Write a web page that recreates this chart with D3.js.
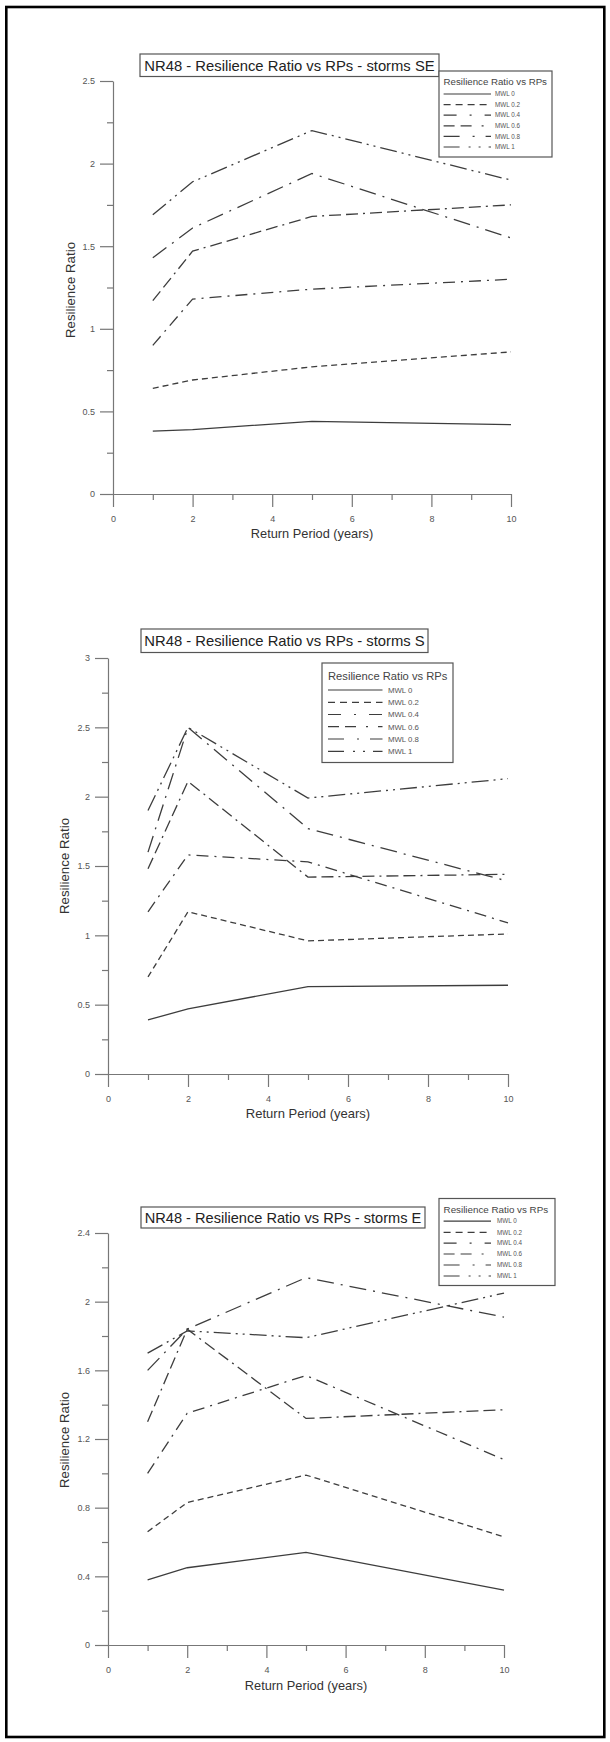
<!DOCTYPE html>
<html>
<head>
<meta charset="utf-8">
<script src="https://cdn.jsdelivr.net/npm/d3@7"></script>
<style>
  body { margin: 0; background: #fff; }
  svg { display: block; }
  text { font-family: "Liberation Sans", Arial, sans-serif; }
</style>
</head>
<body>
<svg id="chart" width="610" height="1742"></svg>
<script>
// ---- data ----
const returnPeriods = [1, 2, 5, 10];
const seriesNames = ["MWL 0", "MWL 0.2", "MWL 0.4", "MWL 0.6", "MWL 0.8", "MWL 1"];

// resilience ratio, one row per MWL series, one value per return period
const ratioSE = [
  [0.38, 0.39, 0.44, 0.42],
  [0.64, 0.69, 0.77, 0.86],
  [0.90, 1.18, 1.24, 1.30],
  [1.17, 1.47, 1.68, 1.75],
  [1.43, 1.61, 1.94, 1.55],
  [1.69, 1.89, 2.20, 1.90]
];
const ratioS = [
  [0.39, 0.47, 0.63, 0.64],
  [0.70, 1.17, 0.96, 1.01],
  [1.17, 1.58, 1.53, 1.09],
  [1.48, 2.11, 1.42, 1.44],
  [1.60, 2.50, 1.77, 1.39],
  [1.90, 2.50, 1.99, 2.13]
];
const ratioE = [
  [0.38, 0.45, 0.54, 0.32],
  [0.66, 0.83, 0.99, 0.63],
  [1.00, 1.35, 1.57, 1.08],
  [1.30, 1.84, 1.32, 1.37],
  [1.60, 1.84, 2.14, 1.91],
  [1.70, 1.83, 1.79, 2.05]
];

const xMajorTicks = [0, 2, 4, 6, 8, 10];
const xMinorTicks = [1, 3, 5, 7, 9];
const yMajorSE = [0, 0.5, 1, 1.5, 2, 2.5];
const yMinorSE = [0.25, 0.75, 1.25, 1.75, 2.25];
const yMajorS = [0, 0.5, 1, 1.5, 2, 2.5, 3];
const yMinorS = [0.25, 0.75, 1.25, 1.75, 2.25, 2.75];
const yMajorE = [0, 0.4, 0.8, 1.2, 1.6, 2, 2.4];
const yMinorE = [0.2, 0.6, 1.0, 1.4, 1.8, 2.2];

const chartTitles = [
  "NR48 - Resilience Ratio vs RPs - storms SE",
  "NR48 - Resilience Ratio vs RPs - storms S",
  "NR48 - Resilience Ratio vs RPs - storms E"
];
const legendTitle = "Resilience Ratio vs RPs";
const xAxisTitle = "Return Period (years)";
const yAxisTitle = "Resilience Ratio";

// ---- styling ----
const dashPatterns = ["none", "6,4", "12,6,2,6", "12,5,12,5,2,5", "17,7,2,7", "17,5,2,5,2,5"];
// legend swatches show one longer repeat of each pattern
const legendDash = ["none", "7,5", "13,13,2,13", "11,6,11,10,2,10", "16,13,2,11", "16,9,2,8,2,8"];
const lineColor = "#3d3d3d";
const axisColor = "#777";

// ---- layout of each panel ----
const panels = [
  {
    title: chartTitles[0], values: ratioSE, yMax: 2.5, yMajor: yMajorSE, yMinor: yMinorSE,
    x0: 113, x1: 511, yTop: 81, yBot: 494,
    titleBox: { x: 140, y: 54, w: 299, h: 22.5, font: 14.8 },
    legend: { x: 439, y: 71, w: 113, h: 86, titleY: 82, titleFont: 9.7,
              rows: [94, 104.6, 115.2, 125.8, 136.4, 147], sx0: 443.6, sx1: 491, lx: 495, font: 6.3 },
    yLabel: { x: 70, y: 290 }, xLabel: { x: 312, y: 534, font: 12.8 }
  },
  {
    title: chartTitles[1], values: ratioS, yMax: 3, yMajor: yMajorS, yMinor: yMinorS,
    x0: 108, x1: 508, yTop: 658, yBot: 1074,
    titleBox: { x: 141, y: 629, w: 287, h: 23.5, font: 14.8 },
    legend: { x: 322, y: 663, w: 131, h: 99.5, titleY: 676.4, titleFont: 11.2,
              rows: [690, 702.3, 714.5, 726.7, 739, 751.3], sx0: 328, sx1: 382.5, lx: 388, font: 7.8 },
    yLabel: { x: 64, y: 866 }, xLabel: { x: 308, y: 1113, font: 13 }
  },
  {
    title: chartTitles[2], values: ratioE, yMax: 2.4, yMajor: yMajorE, yMinor: yMinorE,
    x0: 108, x1: 504, yTop: 1233, yBot: 1645,
    titleBox: { x: 141, y: 1207, w: 284, h: 21, font: 14.6 },
    legend: { x: 439, y: 1198.5, w: 116, h: 87, titleY: 1209, titleFont: 9.8,
              rows: [1221.2, 1232.3, 1243.1, 1254, 1265, 1276], sx0: 443.6, sx1: 491, lx: 497, font: 6.3 },
    yLabel: { x: 64, y: 1440 }, xLabel: { x: 306, y: 1686, font: 12.8 }
  }
];

const svg = d3.select("#chart");

// page frame
svg.append("rect")
  .attr("x", 6.3).attr("y", 7).attr("width", 598).attr("height", 1730)
  .attr("fill", "none").attr("stroke", "#000").attr("stroke-width", 2.6);

panels.forEach(p => {
  const g = svg.append("g");
  const x = d3.scaleLinear().domain([0, 10]).range([p.x0, p.x1]);
  const y = d3.scaleLinear().domain([0, p.yMax]).range([p.yBot, p.yTop]);

  // minor ticks first, then major axes with labels
  const styleAxis = sel => {
    sel.selectAll("path, line").attr("stroke", axisColor).attr("stroke-width", 1.2);
    sel.selectAll("text").attr("fill", "#555").style("font-size", "9px");
  };
  g.append("g").attr("transform", `translate(${p.x0},0)`)
    .call(d3.axisLeft(y).tickValues(p.yMinor).tickSize(6).tickSizeOuter(0).tickFormat(""))
    .call(styleAxis).call(s => s.select(".domain").remove());
  g.append("g").attr("transform", `translate(0,${p.yBot})`)
    .call(d3.axisBottom(x).tickValues(xMinorTicks).tickSize(6).tickSizeOuter(0).tickFormat(""))
    .call(styleAxis).call(s => s.select(".domain").remove());
  g.append("g").attr("transform", `translate(${p.x0},0)`)
    .call(d3.axisLeft(y).tickValues(p.yMajor).tickSize(13).tickSizeOuter(0).tickPadding(5).tickFormat(d3.format("~g")))
    .call(styleAxis);
  g.append("g").attr("transform", `translate(0,${p.yBot})`)
    .call(d3.axisBottom(x).tickValues(xMajorTicks).tickSize(13).tickSizeOuter(0).tickPadding(9).tickFormat(d3.format("~g")))
    .call(styleAxis);

  // axis titles
  g.append("text")
    .attr("transform", `translate(${p.yLabel.x},${p.yLabel.y}) rotate(-90)`)
    .attr("text-anchor", "middle").attr("dy", "0.35em")
    .attr("fill", "#333").style("font-size", "13.3px")
    .text(yAxisTitle);
  g.append("text")
    .attr("x", p.xLabel.x).attr("y", p.xLabel.y).attr("dy", "0.35em")
    .attr("text-anchor", "middle").attr("fill", "#333").style("font-size", p.xLabel.font + "px")
    .text(xAxisTitle);

  // series lines
  const line = d3.line().x((d, i) => x(returnPeriods[i])).y(d => y(d));
  g.selectAll("path.series").data(p.values).join("path")
    .attr("class", "series")
    .attr("d", d => line(d))
    .attr("fill", "none")
    .attr("stroke", lineColor)
    .attr("stroke-width", 1.3)
    .attr("stroke-dasharray", (d, i) => dashPatterns[i]);

  // title box
  const tb = p.titleBox;
  g.append("rect").attr("x", tb.x).attr("y", tb.y).attr("width", tb.w).attr("height", tb.h)
    .attr("fill", "#fff").attr("stroke", "#555").attr("stroke-width", 1.2);
  g.append("text").attr("x", tb.x + tb.w / 2).attr("y", tb.y + tb.h / 2).attr("dy", "0.36em")
    .attr("text-anchor", "middle").attr("fill", "#222").style("font-size", tb.font + "px")
    .text(p.title);

  // legend
  const lg = p.legend;
  g.append("rect").attr("x", lg.x).attr("y", lg.y).attr("width", lg.w).attr("height", lg.h)
    .attr("fill", "#fff").attr("stroke", "#555").attr("stroke-width", 1.2);
  g.append("text").attr("x", lg.sx0).attr("y", lg.titleY).attr("dy", "0.36em")
    .attr("fill", "#444").style("font-size", lg.titleFont + "px")
    .text(legendTitle);
  const rows = g.selectAll("g.legend-row").data(seriesNames).join("g").attr("class", "legend-row");
  rows.append("line")
    .attr("x1", lg.sx0).attr("x2", lg.sx1)
    .attr("y1", (d, i) => lg.rows[i]).attr("y2", (d, i) => lg.rows[i])
    .attr("stroke", lineColor).attr("stroke-width", 1.2)
    .attr("stroke-dasharray", (d, i) => legendDash[i]);
  rows.append("text")
    .attr("x", lg.lx).attr("y", (d, i) => lg.rows[i]).attr("dy", "0.36em")
    .attr("fill", "#555").style("font-size", lg.font + "px")
    .text(d => d);
});
</script>
</body>
</html>
